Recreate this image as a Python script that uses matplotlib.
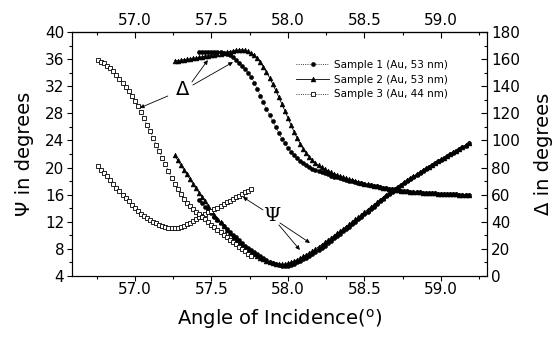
import numpy as np
import matplotlib

matplotlib.use("Agg")
import matplotlib.pyplot as plt
from matplotlib.ticker import MultipleLocator, FormatStrFormatter

plt.rcParams.update({
    "font.family": "DejaVu Sans",
    "axes.linewidth": 0.8,
    "mathtext.default": "regular",
})

# ---- data (angle grid step 0.02 deg) --------------------------------------
STEP = 0.02

# Sample 1 (Au, 53 nm), starts at 57.42 deg
x1_start = 57.42
psi1 = [
    15.25, 14.75, 14.25, 13.75, 13.25, 12.75, 12.3, 11.85, 11.4, 10.95,
    10.5, 10.1, 9.7, 9.3, 8.9, 8.5, 8.15, 7.8, 7.5, 7.2,
    6.9, 6.6, 6.35, 6.1, 5.9, 5.75, 5.6, 5.55, 5.5, 5.55,
    5.65, 5.8, 6.0, 6.2, 6.45, 6.7, 6.95, 7.25, 7.55, 7.85,
    8.15, 8.5, 8.85, 9.2, 9.55, 9.9, 10.25, 10.6, 10.95, 11.3,
    11.65, 12.0, 12.35, 12.75, 13.1, 13.5, 13.85, 14.25, 14.6, 15.0,
    15.4, 15.75, 16.1, 16.45, 16.8, 17.1, 17.45, 17.75, 18.05, 18.35,
    18.65, 18.95, 19.25, 19.55, 19.85, 20.1, 20.35, 20.6, 20.9, 21.15,
    21.4, 21.65, 21.95, 22.2, 22.45, 22.7, 23.0, 23.25, 23.55,
]
delta1 = [
    165.0, 165.2, 165.3, 165.4, 165.5, 165.5, 165.4, 165.2, 164.8, 164.1,
    162.9, 161.3, 159.4, 157.4, 155.2, 152.8, 150.0, 146.6, 142.5, 137.9,
    133.1, 128.2, 123.3, 118.6, 114.0, 109.6, 105.4, 101.4, 97.8, 94.6,
    91.8, 89.3, 87.1, 85.1, 83.3, 81.8, 80.5, 79.3, 78.3, 77.4,
    76.5, 75.7, 74.9, 74.1, 73.4, 72.8, 72.1, 71.5, 70.9, 70.3,
    69.8, 69.3, 68.8, 68.3, 67.9, 67.4, 67.0, 66.6, 66.2, 65.7,
    65.2, 64.8, 64.3, 63.9, 63.5, 63.2, 62.9, 62.6, 62.4, 62.2,
    62.0, 61.8, 61.7, 61.5, 61.4, 61.2, 61.1, 61.0, 60.8, 60.7,
    60.6, 60.5, 60.4, 60.3, 60.2, 60.1, 60.0, 59.9, 59.8,
]

# Sample 2 (Au, 53 nm), starts at 57.26 deg
x2_start = 57.26
psi2 = [
    21.8, 21.1, 20.4, 19.7, 19.0, 18.3, 17.6, 16.95, 16.3, 15.65,
    15.0, 14.3, 13.65, 13.0, 12.45, 11.9, 11.35, 10.8, 10.3, 9.8,
    9.35, 8.95, 8.55, 8.2, 7.85, 7.5, 7.2, 6.95, 6.7, 6.45,
    6.2, 6.0, 5.85, 5.75, 5.7, 5.7, 5.75, 5.85, 6.0, 6.2,
    6.4, 6.65, 6.9, 7.15, 7.4, 7.7, 8.0, 8.3, 8.6, 8.95,
    9.3, 9.6, 9.95, 10.3, 10.6, 10.95, 11.3, 11.65, 12.0, 12.35,
    12.7, 13.05, 13.45, 13.8, 14.15, 14.5, 14.85, 15.2, 15.55, 15.9,
    16.25, 16.6, 16.9, 17.2, 17.5, 17.8, 18.1, 18.4, 18.7, 19.0,
    19.3, 19.6, 19.9, 20.15, 20.4, 20.65, 20.95, 21.2, 21.45, 21.7,
    22.0, 22.25, 22.5, 22.75, 23.05, 23.3, 23.6,
]
delta2 = [
    158.7, 158.9, 159.2, 159.5, 159.8, 160.1, 160.5, 160.9, 161.3, 161.7,
    162.1, 162.5, 162.9, 163.3, 163.7, 164.1, 164.6, 165.1, 165.6, 166.0,
    166.4, 166.7, 166.8, 166.5, 165.7, 164.5, 162.8, 160.5, 157.7, 154.3,
    150.5, 146.3, 141.8, 137.0, 132.0, 127.0, 121.8, 116.6, 111.4, 106.4,
    101.8, 97.6, 93.9, 90.6, 87.8, 85.4, 83.4, 81.7, 80.2, 78.9,
    77.7, 76.6, 75.6, 74.6, 73.7, 72.8, 72.0, 71.2, 70.5, 69.8,
    69.2, 68.6, 68.1, 67.6, 67.1, 66.6, 66.2, 65.7, 65.2, 64.8,
    64.3, 63.9, 63.5, 63.2, 62.9, 62.6, 62.4, 62.2, 62.0, 61.8,
    61.7, 61.5, 61.4, 61.2, 61.1, 61.0, 60.8, 60.7, 60.6, 60.5,
    60.4, 60.3, 60.2, 60.1, 60.0, 59.9, 59.8,
]

# Sample 3 (Au, 44 nm), starts at 56.76 deg
x3_start = 56.76
psi3 = [
    20.3, 19.7, 19.2, 18.7, 18.2, 17.6, 17.0, 16.5, 16.0, 15.5,
    15.0, 14.5, 14.0, 13.6, 13.2, 12.9, 12.6, 12.3, 12.0, 11.75,
    11.5, 11.35, 11.2, 11.1, 11.05, 11.1, 11.15, 11.25, 11.4, 11.6,
    11.85, 12.1, 12.4, 12.65, 12.9, 13.15, 13.4, 13.6, 13.85, 14.1,
    14.35, 14.6, 14.85, 15.1, 15.35, 15.6, 15.85, 16.1, 16.35, 16.6,
    16.9,
]
delta3 = [
    159.5, 158.2, 156.8, 155.2, 153.4, 151.0, 148.4, 145.6, 142.7, 139.6,
    136.4, 133.0, 129.4, 125.4, 121.0, 116.4, 111.6, 106.8, 101.9, 97.0,
    92.1, 87.2, 82.3, 77.4, 72.5, 68.0, 63.9, 60.2, 57.0, 54.2,
    51.8, 49.6, 47.5, 45.5, 43.6, 41.7, 39.8, 37.9, 36.0, 34.1,
    32.2, 30.4, 28.6, 26.8, 25.0, 23.3, 21.6, 19.9, 18.2, 16.5,
    14.8,
]

labels = ["Sample 1 (Au, 53 nm)", "Sample 2 (Au, 53 nm)", "Sample 3 (Au, 44 nm)"]


def angles(start, values):
    return start + STEP * np.arange(len(values))


x1 = angles(x1_start, psi1)
x2 = angles(x2_start, psi2)
x3 = angles(x3_start, psi3)

fig = plt.figure(figsize=(5.59, 3.40), dpi=100)
ax = fig.add_axes([0.1288, 0.1882, 0.7424, 0.7177])
ax2 = ax.twinx()

s1 = dict(ls=":", lw=0.6, color="k", marker="o", ms=2.9, mfc="k", mec="k", mew=0.4)
s2 = dict(ls="-", lw=0.6, color="k", marker="^", ms=3.5, mfc="k", mec="k", mew=0.4)
s3 = dict(ls=":", lw=0.6, color="k", marker="s", ms=2.8, mfc="white", mec="k", mew=0.6)

h1, = ax.plot(x1, psi1, label=labels[0], **s1)
h2, = ax.plot(x2, psi2, label=labels[1], **s2)
h3, = ax.plot(x3, psi3, label=labels[2], **s3)
ax2.plot(x1, delta1, **s1)
ax2.plot(x2, delta2, **s2)
ax2.plot(x3, delta3, **s3)

ax.set_xlim(56.59, 59.30)
ax.set_ylim(4, 40)
ax2.set_ylim(0, 180)

ax.xaxis.set_major_locator(MultipleLocator(0.5))
ax.xaxis.set_minor_locator(MultipleLocator(0.25))
ax.yaxis.set_major_locator(MultipleLocator(4))
ax.yaxis.set_minor_locator(MultipleLocator(2))
ax2.yaxis.set_major_locator(MultipleLocator(20))
ax2.yaxis.set_minor_locator(MultipleLocator(10))
ax.xaxis.set_major_formatter(FormatStrFormatter("%.1f"))

ax.tick_params(axis="x", which="both", direction="out", labelsize=11, pad=1)
ax.tick_params(axis="y", which="both", direction="out", labelsize=11, pad=2)
ax.tick_params(which="major", length=3.5, width=0.8)
ax.tick_params(which="minor", length=2.2, width=0.8)
ax2.tick_params(axis="y", which="both", direction="in", labelsize=11, pad=3)
ax2.tick_params(which="major", length=4, width=0.8)
ax2.tick_params(which="minor", length=2.5, width=0.8)

top = ax.secondary_xaxis("top")
top.xaxis.set_major_locator(MultipleLocator(0.5))
top.xaxis.set_minor_locator(MultipleLocator(0.25))
top.xaxis.set_major_formatter(FormatStrFormatter("%.1f"))
top.tick_params(which="both", direction="in", labelsize=11, pad=3)
top.tick_params(which="major", length=4, width=0.8)
top.tick_params(which="minor", length=2.5, width=0.8)

ax.set_xlabel("Angle of Incidence($^\\mathrm{o}$)", fontsize=14, labelpad=7)
ax.set_ylabel("\u03a8 in degrees", fontsize=14, labelpad=8)
ax2.set_ylabel("\u0394 in degrees", fontsize=14, labelpad=10)

# ---- curve annotations ------------------------------------------------------
arrow = dict(arrowstyle="-|>", lw=0.6, color="k", mutation_scale=6,
             shrinkA=0, shrinkB=0)
ax.text(57.314, 31.45, "\u0394", fontsize=14, ha="center", va="center")
ax.annotate("", xy=(57.033, 28.8), xytext=(57.216, 30.56), arrowprops=arrow)
ax.annotate("", xy=(57.477, 35.85), xytext=(57.373, 32.63), arrowprops=arrow)
ax.annotate("", xy=(57.641, 35.55), xytext=(57.379, 32.18), arrowprops=arrow)

ax.text(57.895, 12.9, "\u03a8", fontsize=14, ha="center", va="center",
        family="DejaVu Serif")
ax.annotate("", xy=(57.706, 15.66), xytext=(57.837, 13.75), arrowprops=arrow)
ax.annotate("", xy=(58.144, 8.88), xytext=(57.948, 11.83), arrowprops=arrow)
ax.annotate("", xy=(58.078, 7.85), xytext=(57.941, 11.53), arrowprops=arrow)

ax2.legend(handles=[h1, h2, h3], loc="upper left",
           bbox_to_anchor=(0.54, 0.885), frameon=False, fontsize=7.5,
           numpoints=1, handlelength=3.2, handletextpad=0.4,
           labelspacing=0.45, borderpad=0, borderaxespad=0)

fig.savefig("out.png", dpi=100)
